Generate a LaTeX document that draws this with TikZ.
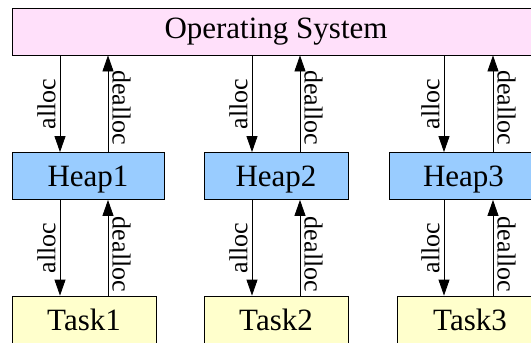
\documentclass[tikz,border=0pt]{standalone}
\usepackage{fontspec}
\setmainfont{Liberation Serif}
\usetikzlibrary{arrows.meta}
\definecolor{ospink}{RGB}{255,224,250}
\definecolor{heapblue}{RGB}{153,204,255}
\definecolor{taskyellow}{RGB}{255,255,204}
\begin{document}
\begin{tikzpicture}[x=1pt,y=-1pt]
        \clip (0,0) rectangle (531,343);

        \begin{scope}[every node/.style={draw,line width=.8pt,minimum height=47pt,inner sep=0pt,
            font=\fontsize{31}{36}\selectfont}]
          \node[fill=ospink,minimum width=528pt]     (os)    at (276,31.5)  {Operating System};
          \node[fill=heapblue,minimum width=152pt,text depth=0pt] (heap1) at (88,176)    {Heap1};
          \node[fill=heapblue,minimum width=144pt,text depth=0pt] (heap2) at (276,176)   {Heap2};
          \node[fill=heapblue,minimum width=149pt,text depth=0pt] (heap3) at (463.5,176) {Heap3};
          \node[fill=taskyellow,minimum width=144pt] (task1) at (84,319.5)  {Task1};
          \node[fill=taskyellow,minimum width=144pt] (task2) at (276,319.5) {Task2};
          \node[fill=taskyellow,minimum width=146pt] (task3) at (470,319.5) {Task3};
        \end{scope}

        % arrow columns
        \coordinate (a1) at (60,0);
        \coordinate (d1) at (108,0);
        \coordinate (a2) at (252,0);
        \coordinate (d2) at (300,0);
        \coordinate (a3) at (444,0);
        \coordinate (d3) at (493,0);

        \begin{scope}[every node/.style={anchor=south,inner sep=4pt,font=\fontsize{26}{30}\selectfont}]

          \begin{scope}[every edge/.style={draw,line width=.8pt,-{Triangle[length=16pt,width=11pt]}}]
            \path (os.south -| a1)    edge node[rotate=90] {alloc} (heap1.north -| a1);
            \path (heap1.north -| d1) edge node[rotate=-90,pos=.46] {dealloc} (os.south -| d1);
            \path (os.south -| a2)    edge node[rotate=90] {alloc} (heap2.north -| a2);
            \path (heap2.north -| d2) edge node[rotate=-90,pos=.46] {dealloc} (os.south -| d2);
            \path (os.south -| a3)    edge node[rotate=90] {alloc} (heap3.north -| a3);
            \path (heap3.north -| d3) edge node[rotate=-90,pos=.46] {dealloc} (os.south -| d3);
            \path (heap1.south -| a1) edge node[rotate=90] {alloc} (task1.north -| a1);
            \path (task1.north -| d1) edge node[rotate=-90,pos=.43] {dealloc} (heap1.south -| d1);
            \path (heap2.south -| a2) edge node[rotate=90] {alloc} (task2.north -| a2);
            \path (task2.north -| d2) edge node[rotate=-90,pos=.43] {dealloc} (heap2.south -| d2);
            \path (heap3.south -| a3) edge node[rotate=90] {alloc} (task3.north -| a3);
            \path (task3.north -| d3) edge node[rotate=-90,pos=.43] {dealloc} (heap3.south -| d3);
          \end{scope}
        \end{scope}

      \end{tikzpicture}
\end{document}
